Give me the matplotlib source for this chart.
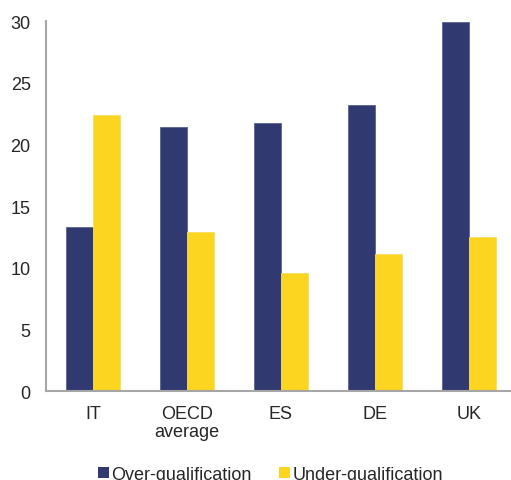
import matplotlib
matplotlib.use("Agg")
import matplotlib.pyplot as plt
from matplotlib.patches import Patch
import numpy as np

categories = ["IT", "OECD\naverage", "ES", "DE", "UK"]
over_qualification = [13.3, 21.4, 21.7, 23.2, 29.95]
under_qualification = [22.4, 12.9, 9.55, 11.1, 12.5]
y_ticks = [0, 5, 10, 15, 20, 25, 30]

navy = "#303A70"
yellow = "#FCD520"
text_color = "#262626"
spine_color = "#A6A6A6"

plt.rcParams['font.family'] = ['Liberation Sans', 'DejaVu Sans']

fig = plt.figure(figsize=(5.11, 4.81), dpi=100)
ax = fig.add_axes([0.090, 0.185, 0.910, 0.769])

x = np.arange(len(categories))
w = 0.287
ax.bar(x - w/2, over_qualification, w, color=navy, edgecolor="#5A6290", linewidth=0.6, label="Over-qualification")
ax.bar(x + w/2, under_qualification, w, color=yellow, edgecolor="#F5DC60", linewidth=0.6, label="Under-qualification")

ax.set_xlim(-0.5, 4.45)
ax.set_ylim(0, 30)
ax.set_yticks(y_ticks)
ax.set_xticks(x)
ax.set_xticklabels(categories)
ax.tick_params(axis='both', length=0, labelsize=13, colors=text_color)
ax.tick_params(axis='y', pad=11)
ax.tick_params(axis='x', pad=10)
for lbl in ax.get_xticklabels():
    lbl.set_linespacing(1.1)
for s in ["top", "right"]:
    ax.spines[s].set_visible(False)
for s in ["left", "bottom"]:
    ax.spines[s].set_color(spine_color)
    ax.spines[s].set_linewidth(1.5)

handles = [Patch(facecolor=navy, edgecolor='none', label="Over-qualification"),
           Patch(facecolor=yellow, edgecolor='none', label="Under-qualification")]
fig.legend(handles=handles, loc='lower left', bbox_to_anchor=(0.174, -0.025), ncol=2,
           frameon=False, fontsize=13, handlelength=0.6, handleheight=0.6,
           handletextpad=0.15, columnspacing=1.5, labelcolor=text_color, borderpad=0)

fig.savefig("out.png", dpi=100)
